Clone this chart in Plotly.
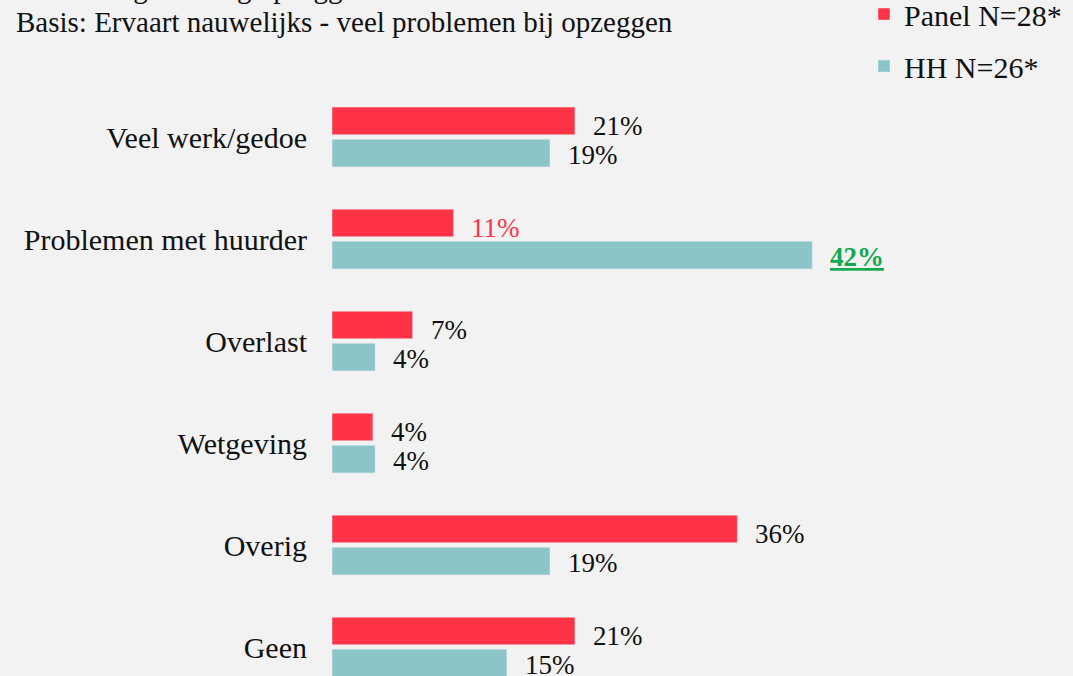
import plotly.graph_objects as go

categories = ["Veel werk/gedoe", "Problemen met huurder", "Overlast", "Wetgeving", "Overig", "Geen"]
panel_values = [21.4, 10.7, 7.1, 3.6, 35.7, 21.4]
hh_values = [19.2, 42.3, 3.8, 3.8, 19.2, 15.4]
panel_name = "Panel N=28*"
hh_name = "HH N=26*"
title_cut = "Toelichting ervaring opzeggen"
subtitle = "Basis: Ervaart nauwelijks - veel problemen bij opzeggen"

RED = "#FF3347"
TEAL = "#8BC5C7"
GREEN = "#12A84E"
BG = "#F2F2F2"
FONT = "Liberation Serif"

W, H = 1073, 676
ML, MR, MT, MB = 332, 20, 86, 0
PW, PH = W - ML - MR, H - MT - MB


def px_to_paper_x(px):
    return (px - ML) / PW


def px_to_paper_y(py):
    return (H - MB - py) / PH


fig = go.Figure()
fig.add_trace(go.Bar(y=categories, x=panel_values, orientation="h", name=panel_name,
                     marker=dict(color=RED), legendgroup="p", hoverinfo="skip"))
fig.add_trace(go.Bar(y=categories, x=hh_values, orientation="h", name=hh_name,
                     marker=dict(color=TEAL), legendgroup="h", hoverinfo="skip"))

annotations = []
for cat, pv, hv in zip(categories, panel_values, hh_values):
    ptxt = f"{round(pv)}%"
    htxt = f"{round(hv)}%"
    pcol = "#111111"
    hcol = "#111111"
    if cat == "Problemen met huurder":
        pcol = RED
        hcol = GREEN
        htxt = f"<b><u>{htxt}</u></b>"
    annotations.append(dict(x=pv, y=cat, xref="x", yref="y", text=ptxt, showarrow=False,
                            xanchor="left", yshift=11, xshift=16,
                            font=dict(family=FONT, size=27, color=pcol)))
    annotations.append(dict(x=hv, y=cat, xref="x", yref="y", text=htxt, showarrow=False,
                            xanchor="left", yshift=-18, xshift=16,
                            font=dict(family=FONT, size=27, color=hcol)))

annotations.append(dict(x=px_to_paper_x(14), y=px_to_paper_y(-12), xref="paper", yref="paper",
                        text=title_cut, showarrow=False, xanchor="left", yanchor="middle",
                        font=dict(family=FONT, size=29, color="#111111")))
annotations.append(dict(x=px_to_paper_x(14), y=px_to_paper_y(22), xref="paper", yref="paper",
                        text=subtitle, showarrow=False, xanchor="left", yanchor="middle",
                        font=dict(family=FONT, size=29, color="#111111")))

fig.update_layout(
    width=W, height=H,
    paper_bgcolor=BG, plot_bgcolor=BG,
    margin=dict(l=ML, r=MR, t=MT, b=MB, autoexpand=False),
    barmode="group", bargap=0.37, bargroupgap=0.14,
    font=dict(family=FONT, size=29, color="#111111"),
    showlegend=True,
    legend=dict(xref="paper", yref="paper", x=px_to_paper_x(864), y=px_to_paper_y(-12),
                xanchor="left", yanchor="top",
                font=dict(family=FONT, size=30, color="#111111"), tracegroupgap=10,
                bgcolor="rgba(0,0,0,0)", itemwidth=30),
    xaxis=dict(visible=False, range=[0, 63.5]),
    yaxis=dict(type="category", categoryorder="array", categoryarray=categories,
               range=[5.284, -0.5], showgrid=False, zeroline=False, showline=False,
               ticks="", ticklabelstandoff=24,
               tickfont=dict(family=FONT, size=30, color="#111111")),
    annotations=annotations,
)

fig.write_html("out.html", config={"displayModeBar": False},
               post_script="document.body.style.margin='0';")
